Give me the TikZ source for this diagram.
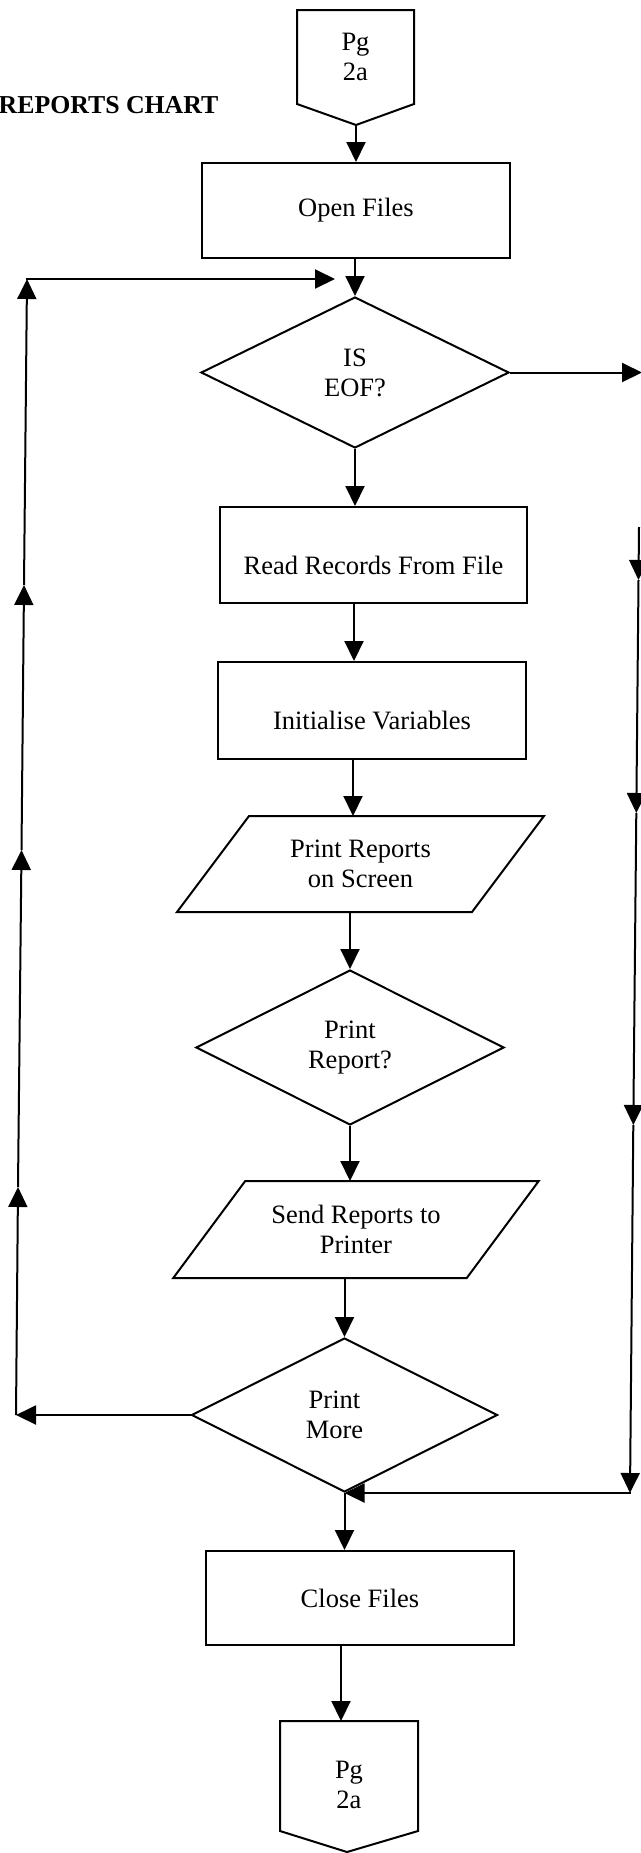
\documentclass[tikz,border=0pt]{standalone}
\usepackage{fontspec}
\setmainfont{Liberation Serif}
\usetikzlibrary{arrows.meta,shapes.geometric,calc}

\begin{document}
\begin{tikzpicture}[x=0.5pt,y=-0.5pt,
  line width=1pt,
  every node/.append style={font=\fontsize{13.25}{15}\selectfont},
  box/.style={draw, rectangle, inner sep=0pt, align=center},
  decide/.style={draw, diamond, inner sep=0pt, align=center},
  io/.style={rectangle, inner sep=0pt, align=center},
  arr/.style={-{Triangle[length=10pt,width=9.5pt]}},
  titletext/.style={anchor=base east, font=\bfseries\fontsize{12.9}{15}\selectfont}]

\useasboundingbox (0,0) rectangle (641,1853);
\clip (0,0) rectangle (641,1853);

% heading
\node[titletext] (title) at (226,113) {REPORTS CHART};

% off-page connector at the top
\node[io, minimum width=57.5pt, minimum height=46pt] (pgtop) at (355.5,57) {Pg\\2a};
\coordinate (pgtoptip) at (356,125);
\draw (pgtop.north west) -- (pgtop.north east) -- (pgtop.south east)
      -- (pgtoptip) -- (pgtop.south west) -- cycle;

% process steps
\node[box, minimum width=154.25pt, minimum height=47.5pt] (open) at (356,210.5) {Open Files};
\node[decide, minimum width=154pt, minimum height=75.5pt] (eof) at (355,372.5) {IS\\EOF?};
\node[box, minimum width=153.5pt, minimum height=48pt,
      label={[yshift=-5pt]center:Read Records From File}] (read) at (373.5,555) {};
\node[box, minimum width=154pt, minimum height=48.5pt,
      label={[yshift=-5pt]center:Initialise Variables}] (init) at (372,710.5) {};

% output to screen (parallelogram)
\node[io, minimum width=146.5pt, minimum height=47pt] (prs) at (360.5,864) {Print Reports\\on Screen};
\draw ($(prs.north west)+(36,0)$) -- ($(prs.north east)+(36,0)$)
   -- ($(prs.south east)+(-36,0)$) -- ($(prs.south west)+(-36,0)$) -- cycle;

\node[decide, minimum width=154pt, minimum height=77.5pt] (rep) at (350,1047.5) {Print\\Report?};

% output to printer (parallelogram)
\node[io, minimum width=145.75pt, minimum height=47.5pt] (send) at (356,1229.5) {Send Reports to\\Printer};
\draw ($(send.north west)+(36,0)$) -- ($(send.north east)+(36,0)$)
   -- ($(send.south east)+(-36,0)$) -- ($(send.south west)+(-36,0)$) -- cycle;

\node[decide, minimum width=153pt, minimum height=77pt,
      label={[align=center,xshift=-5pt]center:Print\\More}] (more) at (344.5,1415) {};
\node[box, minimum width=154pt, minimum height=47pt] (close) at (360,1598) {Close Files};

% off-page connector at the bottom
\node[io, minimum width=68pt, minimum height=54pt,
      label={[align=center,yshift=-4.5pt]center:Pg\\2a}] (pgbot) at (349,1776) {};
\coordinate (pgbottip) at (347,1852);
\draw (pgbot.north west) -- (pgbot.north east) -- (pgbot.south east)
      -- (pgbottip) -- (pgbot.south west) -- cycle;

% main flow
\coordinate (c4) at (354,0);
\coordinate (c5) at (353,0);
\coordinate (c10) at (341,0);
\draw[arr] (pgtoptip) -- (pgtoptip |- open.north);
\draw[arr] (eof.north |- open.south) -- (eof.north);
\draw[arr] (eof.south) -- (eof.south |- read.north);
\draw[arr] (c4 |- read.south) -- (c4 |- init.north);
\draw[arr] (c5 |- init.south) -- (c5 |- prs.north);
\draw[arr] (rep.north |- prs.south) -- (rep.north);
\draw[arr] (rep.south) -- (rep.south |- send.north);
\draw[arr] (more.north |- send.south) -- (more.north);
\draw[arr] (more.south) -- (more.south |- close.north);
\draw[arr] (c10 |- close.south) -- (c10 |- pgbot.north);

% loop back on the left
\coordinate (lb) at (16,1415);
\coordinate (l1) at (18,1187);
\coordinate (l2) at (21.5,850);
\coordinate (l3) at (24,585);
\coordinate (ltop) at (27,279);
\coordinate (lend) at (335,279);
\draw[arr] (more.west) -- (lb);
\draw[arr] (lb) -- (l1);
\draw[arr] (l1) -- (l2);
\draw[arr] (l2) -- (l3);
\draw[arr] (l3) -- (ltop);
\draw[arr, line cap=rect] (ltop) -- (lend);

% end-of-file branch on the right
\coordinate (rend) at (642,372.5);
\coordinate (rtop) at (639,527);
\coordinate (r1) at (638.5,580);
\coordinate (r2) at (636.3,813);
\coordinate (r3) at (633.3,1125);
\coordinate (rb) at (630,1493);
\draw[arr] (eof.east) -- (rend);
\draw[arr] (rtop) -- (r1);
\draw[arr] (r1) -- (r2);
\draw[arr] (r2) -- (r3);
\draw[arr] (r3) -- (rb);
\draw[arr, line cap=rect] (rb) -- (more.south);
\end{tikzpicture}
\end{document}
